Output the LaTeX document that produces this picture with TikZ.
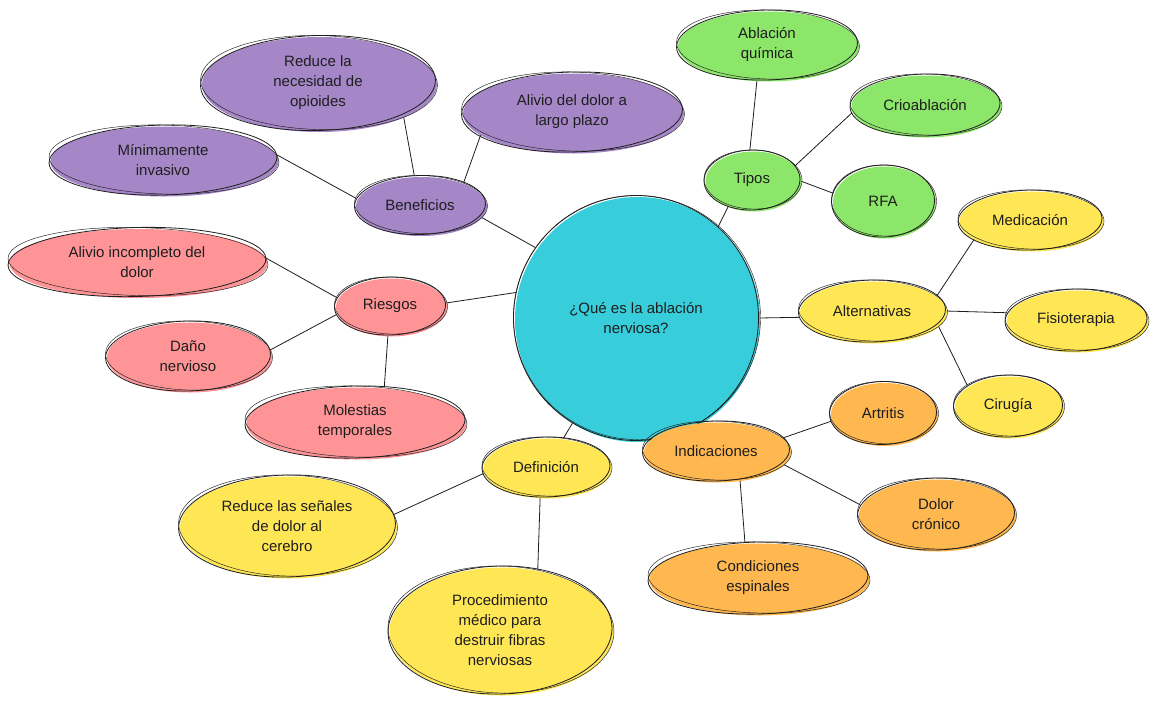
\documentclass[tikz,border=0pt]{standalone}
\usepackage{fontspec}
\setmainfont{Liberation Sans}
\usetikzlibrary{shapes.geometric,backgrounds}
\definecolor{cyanC}{HTML}{38CDDA}
\definecolor{purp}{HTML}{A587C8}
\definecolor{pinkC}{HTML}{FF9497}
\definecolor{yel}{HTML}{FFE655}
\definecolor{grn}{HTML}{8CE669}
\definecolor{org}{HTML}{FFB750}
\definecolor{ink}{HTML}{1E1E1E}
\tikzset{
  bubnode/.style={ellipse, inner sep=0pt, align=center, text=ink,
    font=\fontsize{15}{20}\selectfont},
  sk/.style={draw=ink, line width=0.8pt},
  sktwo/.style={draw=ink, line width=0.45pt},
  edge/.style={draw=ink, line width=0.8pt}
}
\newcommand{\bub}[7]{%
  \fill[#6] (#2+1.5,#3+1.5) ellipse [x radius=#4pt/2, y radius=#5pt/2];
  \draw[sk, rotate around={1.5:(#2,#3)}] (#2,#3) ellipse [x radius=#4pt/2, y radius=#5pt/2];
  \draw[sktwo, rotate around={-1.5:(#2,#3)}] (#2+1,#3-0.5) ellipse [x radius=#4pt/2+1pt, y radius=#5pt/2-0.5pt];
  \node[bubnode, minimum width=#4pt, minimum height=#5pt] (#1) at (#2,#3) {#7};
}
\begin{document}
\begin{tikzpicture}[x=1pt,y=-1pt]
\useasboundingbox (0,0) rectangle (1158,705);

\bub{c}{636}{318}{245}{245}{cyanC}{¿Qué es la ablación\\nerviosa?}
\bub{ben}{420}{205}{131}{59}{purp}{Beneficios}
\bub{red}{318}{83}{235}{95}{purp}{Reduce la\\necesidad de\\opioides}
\bub{aliv}{572}{112}{221}{80}{purp}{Alivio del dolor a\\largo plazo}
\bub{min}{163}{160}{228}{70}{purp}{Mínimamente\\invasivo}
\bub{ries}{390}{306}{111}{58}{pinkC}{Riesgos}
\bub{inc}{137}{262}{258}{69}{pinkC}{Alivio incompleto del\\dolor}
\bub{dano}{188}{356}{165}{70}{pinkC}{Daño\\nervioso}
\bub{mol}{355}{422}{220}{72}{pinkC}{Molestias\\temporales}
\bub{def}{546}{467}{128}{60}{yel}{Definición}
\bub{sen}{287}{526}{217}{102}{yel}{Reduce las señales\\de dolor al\\cerebro}
\bub{proc}{500}{630}{224}{128}{yel}{Procedimiento\\médico para\\destruir fibras\\nerviosas}
\bub{tip}{752}{180}{96}{60}{grn}{Tipos}
\bub{aq}{767}{45}{181}{70}{grn}{Ablación\\química}
\bub{cri}{925}{105}{150}{62}{grn}{Crioablación}
\bub{rfa}{883}{201}{103}{72}{grn}{RFA}
\bub{alt}{872}{311}{147}{62}{yel}{Alternativas}
\bub{med}{1030}{220}{144}{60}{yel}{Medicación}
\bub{fis}{1076}{320}{142}{62}{yel}{Fisioterapia}
\bub{cir}{1008}{406}{109}{62}{yel}{Cirugía}
\bub{ind}{716}{451}{147}{60}{org}{Indicaciones}
\bub{art}{883}{413}{107}{63}{org}{Artritis}
\bub{dc}{936}{514}{157}{72}{org}{Dolor\\crónico}
\bub{ce}{758}{578}{220}{72}{org}{Condiciones\\espinales}

\begin{pgfonlayer}{background}
\fill[white] (0,0) rectangle (1158,705);
\draw[edge] (ben.-11) -- (c.145);
\draw[edge] (ben.101) -- (red.-21);
\draw[edge] (ben.27) -- (aliv.194);
\draw[edge] (ben.174) -- (min.3);
\draw[edge] (ries.3) -- (c.168);
\draw[edge] (ries.171) -- (inc.2);
\draw[edge] (ries.189) -- (dano.4);
\draw[edge] (ries) -- (mol.50);
\draw[edge] (c) -- (def);
\draw[edge] (def.186) -- (sen.6);
\draw[edge] (def.259) -- (proc.58);
\draw[edge] (tip.228) -- (c.48);
\draw[edge] (tip.94) -- (aq.254);
\draw[edge] (tip.18) -- (cri.186);
\draw[edge] (tip.-1) -- (rfa.171);
\draw[edge] (alt.185) -- (c.0);
\draw[edge] (alt.13) -- (med.199);
\draw[edge] (alt.0) -- (fis.174);
\draw[edge] (alt.-12) -- (cir.153);
\draw[edge] (c) -- (ind);
\draw[edge] (ind.11) -- (art.189);
\draw[edge] (ind.-11) -- (dc.173);
\draw[edge] (ind.-50) -- (ce.110);
\end{pgfonlayer}
\end{tikzpicture}
\end{document}
